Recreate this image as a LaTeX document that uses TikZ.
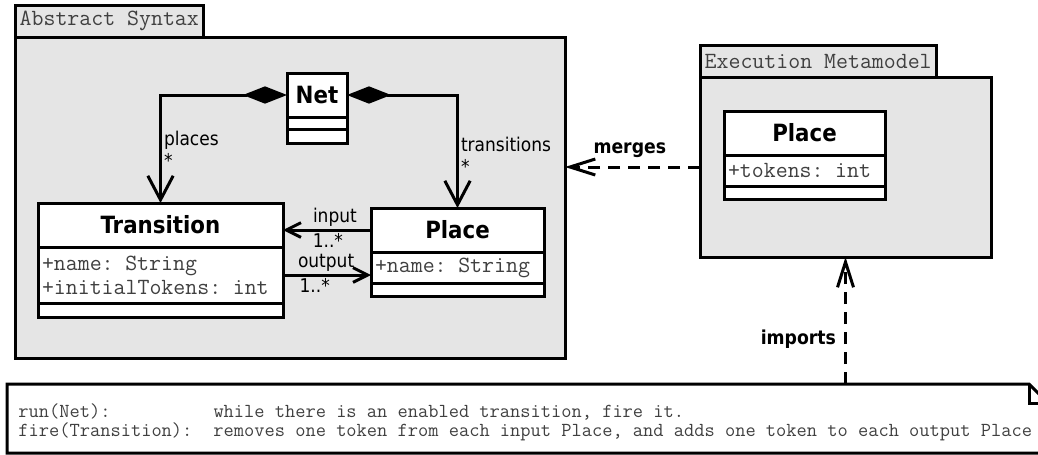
\documentclass[tikz,border=0pt]{standalone}
\usepackage{fontspec}
\setmainfont{DejaVu Sans Condensed}
\usetikzlibrary{positioning,arrows.meta}
\definecolor{pkggray}{HTML}{E5E5E5}

\begin{document}
\begin{tikzpicture}[x=0.75pt,y=-0.75pt,line width=2.25pt]
  \tikzstyle{pkgbody}=[draw,fill=pkggray,anchor=north west,inner sep=0pt,outer sep=0pt]
  \tikzstyle{pkgtab}=[draw,fill=pkggray,inner xsep=3.5pt,inner ysep=0pt,minimum height=24pt,outer sep=0pt,text=black!75,font=\fontsize{17.4}{18}\selectfont\ttfamily]
  \tikzstyle{clsname}=[draw,fill=white,minimum height=33pt,outer sep=0pt,font=\fontsize{17.8}{20}\selectfont\bfseries]
  \tikzstyle{clsattr}=[draw,fill=white,inner xsep=3pt,inner ysep=0pt,outer sep=0pt,align=left,text=black!75,font=\fontsize{17.4}{18}\selectfont\ttfamily]
  \tikzstyle{clsops}=[draw,fill=white,inner sep=0pt,outer sep=0pt]
  \tikzstyle{comp}=[{Diamond[length=33pt,width=13pt]}-{Straight Barb[length=18pt,width=19pt]}]
  \tikzstyle{assoc}=[-{Straight Barb[length=11pt,width=11pt]}]
  \tikzstyle{dep}=[dash pattern=on 9pt off 6pt,-{Straight Barb[length=19pt,width=12pt]}]
  \tikzstyle{lbl}=[font=\fontsize{14.2}{17}\selectfont,inner sep=1.5pt]
  \tikzstyle{deplbl}=[font=\fontsize{14.4}{16}\selectfont\bfseries,inner sep=2pt]
  \useasboundingbox (0,0) rectangle (1038,454);

  \node[pkgbody,minimum width=412.5pt,minimum height=240.75pt] (asBody) at (15,37) {};
  \node[pkgtab,above right=0pt of asBody.north west] (asTab) {Abstract Syntax};
  \node[pkgbody,minimum width=218.25pt,minimum height=135pt] (emBody) at (700,77) {};
  \node[pkgtab,above right=0pt of emBody.north west] (emTab) {Execution Metamodel};

  \node[clsname,minimum width=45pt,anchor=north west] (netName) at (287,73) {Net};
  \node[clsops,minimum width=45pt,minimum height=9pt,below=0pt of netName] (netAttr) {};
  \node[clsops,minimum width=45pt,minimum height=10.5pt,below=0pt of netAttr] (netOps) {};

  \node[clsname,minimum width=183.75pt,anchor=north west] (trName) at (38,203) {Transition};
  \node[clsattr,text width=177.75pt,minimum height=42pt,below=0pt of trName] (trAttr) {+name: String\\+initialTokens: int};
  \node[clsops,minimum width=183.75pt,minimum height=10.5pt,below=0pt of trAttr] (trOps) {};

  \node[clsname,minimum width=129.75pt,anchor=north west] (plName) at (371,208) {Place};
  \node[clsattr,text width=123.75pt,minimum height=23.25pt,below=0pt of plName] (plAttr) {+name: String};
  \node[clsops,minimum width=129.75pt,minimum height=9.75pt,below=0pt of plAttr] (plOps) {};

  \node[clsname,minimum width=120.75pt,anchor=north west] (tkName) at (724,111) {Place};
  \node[clsattr,text width=114.75pt,minimum height=23.25pt,below=0pt of tkName] (tkAttr) {+tokens: int};
  \node[clsops,minimum width=120.75pt,minimum height=9.75pt,below=0pt of tkAttr] (tkOps) {};

  \node[minimum width=780.75pt,minimum height=51.75pt,anchor=north west,inner sep=0pt,outer sep=0pt] (note) at (7,384) {};
  \draw (note.north west) -- ([xshift=-14.25pt]note.north east) -- ([yshift=-14.25pt]note.north east) -- (note.south east) -- (note.south west) -- cycle;
  \draw ([xshift=-14.25pt]note.north east) |- ([yshift=-14.25pt]note.north east);
  \node[font=\fontsize{14.9}{13.9}\selectfont\ttfamily,text=black!75,inner sep=0pt,anchor=base west] (noteTxt) at (17,417)
    {\begin{tabular}[t]{@{}p{146.25pt}@{}l@{}}
     run(Net): & while there is an enabled transition, fire it.\\
     fire(Transition): & removes one token from each input Place, and adds one token to each output Place
     \end{tabular}};

  \draw[comp] (netName.west) -| (trName.north) node[lbl,pos=0.65,anchor=north west,align=left] {places\\*};
  \draw[comp] (netName.east) -| (plName.north) node[lbl,pos=0.67,anchor=north west,align=left] {transitions\\*};
  \draw[assoc] (plName.west) -- (plName.west -| trName.east) node[lbl,pos=0.41,above] {input} node[lbl,pos=0.49,below] {1..*};
  \draw[assoc] (trAttr.east) -- (trAttr.east -| plName.west) node[lbl,pos=0.49,above] {output} node[lbl,pos=0.36,below] {1..*};
  \draw[dep] (emBody.west) -- (emBody.west -| asBody.east) node[deplbl,pos=0.52,above,yshift=4pt] {merges};
  \draw[dep] (note.north -| emBody.south) -- (emBody.south) node[deplbl,pos=0.35,left,xshift=-4pt] {imports};
\end{tikzpicture}
\end{document}
